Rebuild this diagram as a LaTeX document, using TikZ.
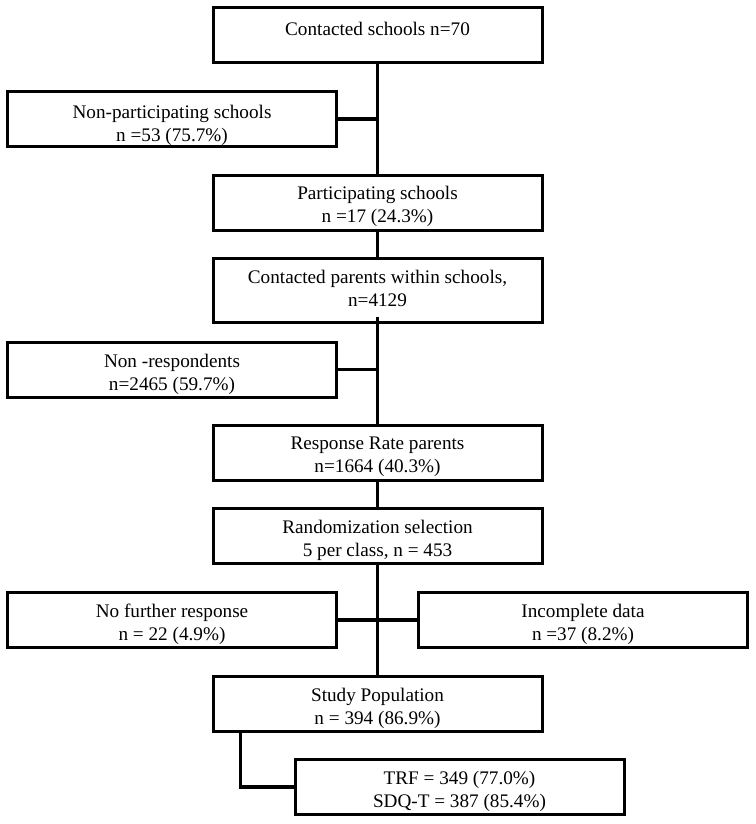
\documentclass[tikz,border=0pt]{standalone}
\usepackage{fontspec}
\setmainfont{Liberation Serif}
\usetikzlibrary{shadows}
\begin{document}
\begin{tikzpicture}[x=1pt,y=-1pt,
  box/.style={draw, line width=3pt, rectangle, fill=white, inner sep=0pt,
    minimum width=329pt, minimum height=55pt,
    drop shadow={shadow xshift=1.5pt, shadow yshift=-1.5pt, opacity=0.35, fill=black!70}},
  lbl/.style={align=center, inner sep=0pt, yshift=-4.5pt,
    font=\fontsize{19.2}{22.8}\selectfont},
  conn/.style={draw, line width=3.2pt}]
\useasboundingbox (0,0) rectangle (755,824);
\node[box, label={[lbl, yshift=-0.5pt]center:{Contacted schools n=70\\\mbox{}}}] (b1) at (377.5,35) {};
\node[box, label={[lbl, yshift=-1.5pt]center:{Non-participating schools\\n =53 (75.7\%)}}] (b2) at (172,119) {};
\node[box, label={[lbl, yshift=0.5pt]center:{Participating schools\\n =17 (24.3\%)}}] (b3) at (377.5,202.5) {};
\node[box, minimum height=64pt, label={[lbl, yshift=6pt]center:{Contacted parents within schools,\\n=4129}}] (b4) at (377.5,290) {};
\node[box, label={[lbl]center:{Non -respondents\\n=2465 (59.7\%)}}] (b5) at (172,369.5) {};
\node[box, label={[lbl]center:{Response Rate parents\\n=1664 (40.3\%)}}] (b6) at (377.5,452.5) {};
\node[box, label={[lbl]center:{Randomization selection\\5 per class, n = 453}}] (b7) at (377.5,536) {};
\node[box, label={[lbl]center:{No further response\\n = 22 (4.9\%)}}] (b8) at (172,620) {};
\node[box, label={[lbl]center:{Incomplete data\\n =37 (8.2\%)}}] (b9) at (583,620) {};
\node[box, label={[lbl]center:{Study Population\\n = 394 (86.9\%)}}] (b10) at (377.5,703.5) {};
\node[box, label={[lbl]center:{TRF = 349 (77.0\%)\\SDQ-T = 387 (85.4\%)}}] (b11) at (459.5,787) {};
\coordinate (stub) at ([yshift=7pt]b4.south);
\coordinate (split) at ([xshift=29pt]b10.south west);
\draw[conn] (b1.south) -- (b3.north);
\draw[conn] (b2.east) -- (b2.east -| b1.south);
\draw[conn] (b3.south) -- (b4.north);
\draw[conn] (stub) -- (b6.north);
\draw[conn] (b5.east) -- (b5.east -| b4.south);
\draw[conn] (b6.south) -- (b7.north);
\draw[conn] (b7.south) -- (b10.north);
\draw[conn] (b8.east) -- (b9.west);
\draw[conn] (split) |- (b11.west);
\end{tikzpicture}
\end{document}
